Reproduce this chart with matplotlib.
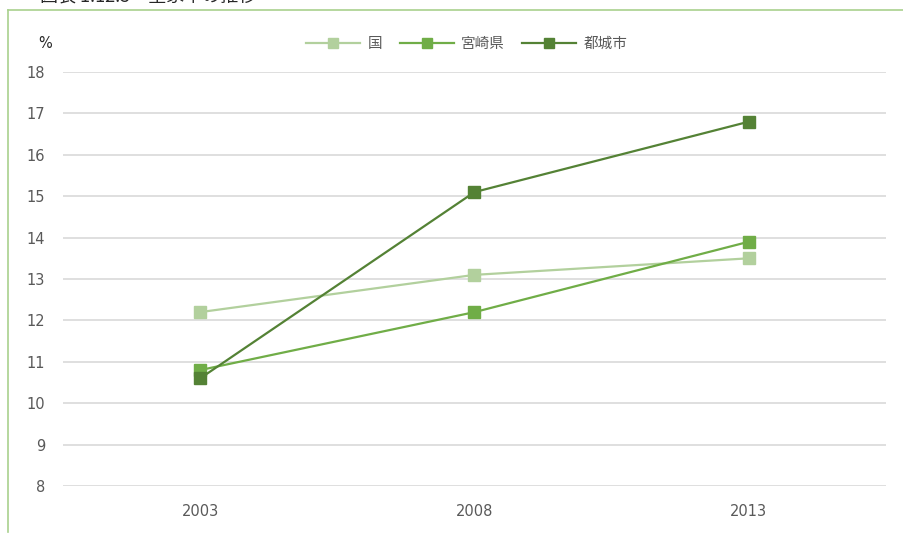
import matplotlib
matplotlib.use('Agg')
import matplotlib.pyplot as plt
from matplotlib.lines import Line2D

plt.rcParams['font.family'] = ['DejaVu Sans', 'Noto Sans CJK JP']

# --- data ---
years = ['2003', '2008', '2013']
series_names = ['国', '宮崎県', '都城市']
kuni = [12.2, 13.1, 13.5]
miyazaki = [10.8, 12.2, 13.9]
miyakonojo = [10.6, 15.1, 16.8]
yticks = list(range(8, 19))

colors = ['#b2d09d', '#70ad47', '#548235']
cjk = ['Noto Sans CJK JP', 'DejaVu Sans']

W, H = 904, 534
fig = plt.figure(figsize=(W / 100, H / 100), dpi=100)

# plot area in pixel terms
left, right, top, bottom = 63, 886, 72, 486
ax = fig.add_axes([left / W, 1 - bottom / H, (right - left) / W, (bottom - top) / H])

x = range(len(years))
for vals, name, c in zip([kuni, miyazaki, miyakonojo], series_names, colors):
    ax.plot(x, vals, color=c, linewidth=1.6, marker='s', markersize=8.5,
            markeredgecolor=c, label=name, zorder=3)

ax.set_xlim(-0.5, 2.5)
ax.set_ylim(8, 18)
ax.set_yticks(yticks)
ax.set_xticks(list(x))
ax.set_xticklabels(years)
ax.grid(axis='y', color='#d9d9d9', linewidth=1.2)
ax.set_axisbelow(True)
for s in ax.spines.values():
    s.set_visible(False)
ax.tick_params(length=0, labelsize=10.5, colors='#595959')
ax.tick_params(axis='y', pad=13)
ax.tick_params(axis='x', pad=13)

# unit label
fig.text(45 / W, 1 - 44 / H, '%', fontsize=10.5, color='#262626', ha='center', va='center')

# legend
leg = fig.legend(loc='center', bbox_to_anchor=(467 / W, 1 - 44 / H), ncol=3, frameon=False,
                 prop={'family': cjk, 'size': 10.5}, handlelength=3.7,
                 columnspacing=1.2, handletextpad=0.5)
for t in leg.get_texts():
    t.set_color('#595959')
for h in leg.legend_handles:
    h.set_markersize(7)

# outer frame (top and left edge visible)
fig.add_artist(Line2D([8 / W, 1.0], [1 - 10 / H, 1 - 10 / H], color='#a9d18e', linewidth=1.2,
                      transform=fig.transFigure))
fig.add_artist(Line2D([8 / W, 8 / W], [1 - 10 / H, 1 - 532 / H], color='#a9d18e', linewidth=1.2,
                      transform=fig.transFigure))

# title, cut off at the top edge as in the source image
fig.text(40 / W, 1 - 3 / H, '図表 1.12.5　空家率の推移', fontsize=13, color='#262626',
         ha='left', va='baseline', family=cjk)

fig.savefig('out.png', dpi=100)
